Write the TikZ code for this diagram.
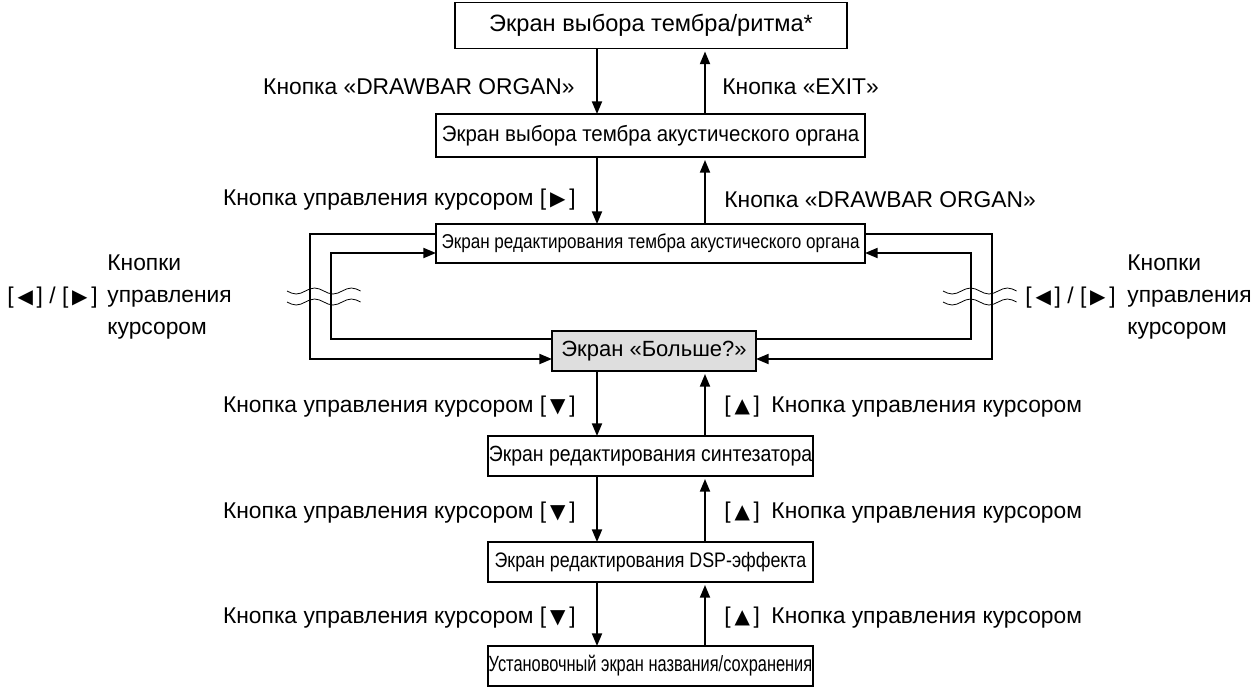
\documentclass[tikz,border=0pt]{standalone}
\usepackage{fontspec}
\setmainfont{Liberation Sans}
\newfontfamily\symfont{DejaVu Sans}
\usepackage{graphicx}
\usepackage{tikz}
\usetikzlibrary{arrows.meta}
\tikzstyle{screen}=[draw, line width=0.6pt, inner sep=0pt, outer sep=0pt]
\tikzstyle{flow}=[line width=0.9pt, -{Triangle[length=6.3pt,width=5pt]}]
\tikzstyle{back}=[flow, shorten >=1.5pt]
\tikzstyle{lbl}=[inner sep=0pt, font=\fontsize{11.4}{16}\selectfont]
\tikzstyle{wave}=[line width=0.4pt]
\newcommand{\tri}[1]{\,{\symfont\fontsize{10}{10}\selectfont #1}\,}
\newcommand{\squeeze}[2]{\scalebox{#1}[1]{#2}}
\newcommand{\breakwave}[2]{
	\draw[wave] (#1,#2) sin ++(9.2,3) cos ++(9.2,-3) sin ++(9.2,-3) cos ++(9.2,3)
		sin ++(9.2,3) cos ++(9.2,-3) sin ++(9.2,-3) cos ++(9.2,3);
}
\begin{document}
\begin{tikzpicture}[x=0.5pt, y=-0.5pt]
	\useasboundingbox (0,0) rectangle (1260,687);
	\coordinate (dn) at (597,0);
	\coordinate (up) at (705,0);
	% screens
	\node[screen, minimum width=196pt, minimum height=23pt, font=\fontsize{11.8}{13}\selectfont] (select) at (651,25.5) {Экран выбора тембра/ритма*};
	\node[screen, minimum width=214.5pt, minimum height=21.5pt, font=\fontsize{11}{13}\selectfont] (organ) at (650.5,135.5) {\squeeze{0.93}{Экран выбора тембра акустического органа}};
	\node[screen, minimum width=214.5pt, minimum height=19.5pt, font=\fontsize{10}{12}\selectfont] (edit) at (650.5,243.5) {\squeeze{0.855}{Экран редактирования тембра акустического органа}};
	\node[screen, fill=black!13, minimum width=102pt, minimum height=20pt, font=\fontsize{11}{13}\selectfont] (more) at (654,351) {Экран «Больше?»};
	\node[screen, minimum width=162.5pt, minimum height=20pt, font=\fontsize{11}{13}\selectfont] (synth) at (650.5,456) {\squeeze{0.885}{Экран редактирования синтезатора}};
	\node[screen, minimum width=162.5pt, minimum height=20pt, font=\fontsize{10.5}{12}\selectfont] (dsp) at (650.5,562) {\squeeze{0.85}{Экран редактирования DSP-эффекта}};
	\node[screen, minimum width=162.5pt, minimum height=20pt, font=\fontsize{11}{13}\selectfont] (name) at (650.5,666) {\squeeze{0.745}{Установочный экран названия/сохранения}};
	% vertical steps
	\draw[flow] (select.south -| dn) -- (organ.north -| dn);
	\draw[back] (organ.north -| up) -- (select.south -| up);
	\draw[flow] (organ.south -| dn) -- (edit.north -| dn);
	\draw[back] (edit.north -| up) -- (organ.south -| up);
	\draw[flow] (more.south -| dn) -- (synth.north -| dn);
	\draw[back] (synth.north -| up) -- (more.south -| up);
	\draw[flow] (synth.south -| dn) -- (dsp.north -| dn);
	\draw[back] (dsp.north -| up) -- (synth.south -| up);
	\draw[flow] (dsp.south -| dn) -- (name.north -| dn);
	\draw[back] (name.north -| up) -- (dsp.south -| up);
	% side loops
	\coordinate (lot) at (310,234); \coordinate (lob) at (310,359);
	\coordinate (lit) at (331,253); \coordinate (lib) at (331,339);
	\coordinate (rot) at (992,234); \coordinate (rob) at (992,359);
	\coordinate (rit) at (971,253); \coordinate (rib) at (971,339);
	\draw[flow] (edit.west |- lot) -- (lot) -- (lob) -- (more.west |- lob);
	\draw[flow] (more.west |- lib) -- (lib) -- (lit) -- (edit.west |- lit);
	\draw[flow] (edit.east |- rot) -- (rot) -- (rob) -- (more.east |- rob);
	\draw[flow] (more.east |- rib) -- (rib) -- (rit) -- (edit.east |- rit);
	\breakwave{287}{291}
	\breakwave{287}{302}
	\breakwave{943}{291}
	\breakwave{943}{302}
	% labels
	\node[lbl, anchor=east] (dbarA) at (575,87) {Кнопка «DRAWBAR ORGAN»};
	\node[lbl, anchor=west] (exitA) at (722,87) {Кнопка «EXIT»};
	\node[lbl, anchor=east] (cursR) at (576,200) {Кнопка управления курсором [\tri{▶}]};
	\node[lbl, anchor=west] (dbarB) at (724,200) {Кнопка «DRAWBAR ORGAN»};
	\node[lbl, anchor=east] (cursDa) at (576,407) {Кнопка управления курсором [\tri{▼}]};
	\node[lbl, anchor=west] (cursUa) at (724,407) {[\tri{▲}]\enspace Кнопка управления курсором};
	\node[lbl, anchor=east] (cursDb) at (576,513) {Кнопка управления курсором [\tri{▼}]};
	\node[lbl, anchor=west] (cursUb) at (724,513) {[\tri{▲}]\enspace Кнопка управления курсором};
	\node[lbl, anchor=east] (cursDc) at (576,618) {Кнопка управления курсором [\tri{▼}]};
	\node[lbl, anchor=west] (cursUc) at (724,618) {[\tri{▲}]\enspace Кнопка управления курсором};
	\node[lbl, anchor=west] (lrL) at (7,298) {[\tri{◀}] / [\tri{▶}]};
	\node[lbl, anchor=west, align=left] (lrLtxt) at (107,297) {Кнопки\\управления\\курсором};
	\node[lbl, anchor=west] (lrR) at (1025,298) {[\tri{◀}] / [\tri{▶}]};
	\node[lbl, anchor=west, align=left] (lrRtxt) at (1127,297) {Кнопки\\управления\\курсором};
\end{tikzpicture}
\end{document}
